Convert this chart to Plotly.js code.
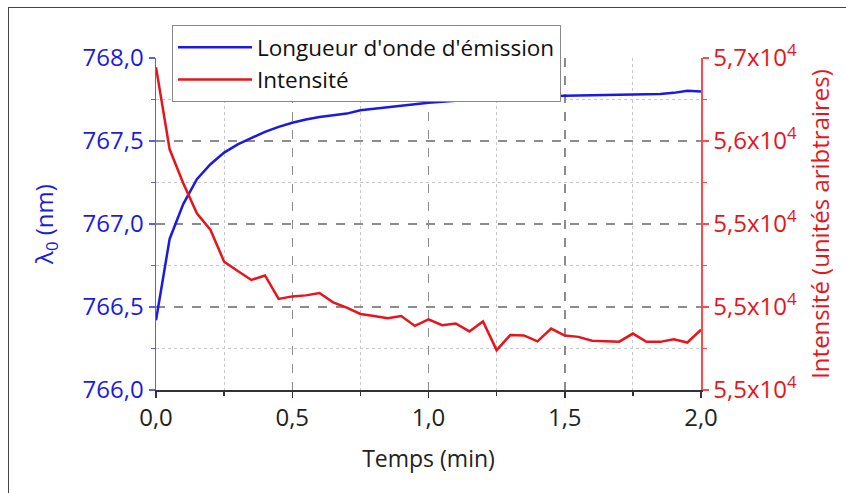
<!DOCTYPE html>
<html>
<head>
<meta charset="utf-8">
<script src="https://cdn.plot.ly/plotly-3.0.1.min.js"></script>
<style>
  html, body { margin: 0; padding: 0; background: #fff; }
  #wrap { position: relative; width: 846px; height: 493px; overflow: hidden; }
  #frame { position: absolute; left: 8px; top: 7px; width: 900px; height: 600px;
           border-left: 1.5px solid #444; border-top: 1.5px solid #444; pointer-events: none; }
</style>
</head>
<body>
<div id="wrap">
  <div id="chart" style="width:846px;height:493px;"></div>
  <div id="frame"></div>
</div>
<script>
// Time (min)
const temps = [0.00, 0.05, 0.10, 0.15, 0.20, 0.25, 0.30, 0.35, 0.40, 0.45,
               0.50, 0.55, 0.60, 0.65, 0.70, 0.75, 0.80, 0.85, 0.90, 0.95,
               1.00, 1.05, 1.10, 1.15, 1.20, 1.25, 1.30, 1.35, 1.40, 1.45,
               1.50, 1.55, 1.60, 1.65, 1.70, 1.75, 1.80, 1.85, 1.90, 1.95, 2.00];

// Emission wavelength (nm)
const longueurOnde = [766.42, 766.91, 767.12, 767.27, 767.36, 767.43, 767.48, 767.52, 767.555, 767.585,
                      767.61, 767.63, 767.645, 767.655, 767.665, 767.685, 767.695, 767.705, 767.715, 767.722,
                      767.73, 767.737, 767.743, 767.748, 767.752, 767.756, 767.762, 767.762, 767.766, 767.77,
                      767.773, 767.775, 767.776, 767.776, 767.778, 767.779, 767.781, 767.783, 767.79, 767.803, 767.798];

// Intensity (arbitrary units)
const intensite = [56945, 56450, 56245, 56064, 55964, 55773, 55717, 55663, 55690, 55549,
                   55564, 55570, 55584, 55528, 55496, 55458, 55446, 55432, 55446, 55386,
                   55426, 55390, 55401, 55353, 55413, 55240, 55331, 55329, 55293, 55370,
                   55328, 55320, 55297, 55296, 55291, 55340, 55290, 55290, 55305, 55286, 55363];

// Right axis tick labels as printed on the original
const intensiteTickVals = [55000, 55500, 56000, 56500, 57000];
const intensiteTickText = ["5,5x10<sup>4</sup>", "5,5x10<sup>4</sup>", "5,5x10<sup>4</sup>", "5,6x10<sup>4</sup>", "5,7x10<sup>4</sup>"];

const FONT = "Open Sans, Lato, sans-serif";
const BLUE = "#1a1ae0";
const RED = "#e8141c";

const traces = [
  { x: temps, y: longueurOnde, type: "scatter", mode: "lines", name: "Longueur d'onde d'émission",
    line: { color: BLUE, width: 2.5 }, yaxis: "y" },
  { x: temps, y: intensite, type: "scatter", mode: "lines", name: "Intensité",
    line: { color: RED, width: 2.5 }, yaxis: "y2" }
];

const layout = {
  width: 846, height: 493,
  margin: { l: 156, r: 145, t: 58, b: 103, pad: 0 },
  paper_bgcolor: "#fff", plot_bgcolor: "#fff",
  separators: ", ",
  font: { family: FONT, size: 24, color: "#222" },
  showlegend: true,
  legend: {
    x: 0.029, y: 1.1, xanchor: "left", yanchor: "top",
    bgcolor: "#fff", bordercolor: "#8a8a8a", borderwidth: 1.2,
    font: { family: FONT, size: 22.5, color: "#111" },
    itemwidth: 74,
    entrywidth: 410,
    tracegroupgap: 0
  },
  xaxis: {
    range: [0, 2], dtick: 0.5, tick0: 0, tickformat: ".1f",
    showline: true, linecolor: "#333", linewidth: 1.5,
    ticks: "outside", ticklen: 6, tickwidth: 1.5, tickcolor: "#333",
    showgrid: true, gridcolor: "#8c8c8c", gridwidth: 1.5, griddash: "dash",
    minor: { dtick: 0.25, tick0: 0, ticks: "outside", ticklen: 4, tickcolor: "#333",
             showgrid: true, gridcolor: "#c8c8c8", gridwidth: 1, griddash: "dot" },
    zeroline: false,
    tickfont: { family: FONT, size: 24, color: "#222" },
    title: { text: "Temps (min)", font: { family: FONT, size: 23, color: "#222" }, standoff: 18 }
  },
  yaxis: {
    range: [766, 768], dtick: 0.5, tick0: 766, tickformat: ".1f",
    showline: true, linecolor: "#5a5aff", linewidth: 1.5,
    ticks: "outside", ticklen: 6, tickwidth: 1.5, tickcolor: "#5a5aff",
    showgrid: true, gridcolor: "#8c8c8c", gridwidth: 1.5, griddash: "dash",
    minor: { dtick: 0.25, tick0: 766, ticks: "outside", ticklen: 4, tickcolor: "#5a5aff",
             showgrid: true, gridcolor: "#c8c8c8", gridwidth: 1, griddash: "dot" },
    zeroline: false,
    tickfont: { family: FONT, size: 24, color: BLUE },
    title: { text: "λ<sub>0</sub> (nm)", font: { family: FONT, size: 24, color: BLUE }, standoff: 22 }
  },
  yaxis2: {
    overlaying: "y", side: "right", anchor: "x",
    range: [55000, 57000], tickmode: "array",
    tickvals: intensiteTickVals, ticktext: intensiteTickText,
    showline: true, linecolor: "#ff4a4a", linewidth: 1.5,
    ticks: "outside", ticklen: 6, tickwidth: 1.5, tickcolor: "#ff4a4a",
    showgrid: false,
    minor: { dtick: 250, tick0: 55000, ticks: "outside", ticklen: 4, tickcolor: "#ff4a4a", showgrid: false },
    zeroline: false,
    tickfont: { family: FONT, size: 24, color: RED },
    title: { text: "Intensité (unités aribtraires)", font: { family: FONT, size: 24, color: RED }, standoff: 16 }
  },
  // white stroke hiding the gridline that falls on the open top edge of the plot area
  shapes: [
    { type: "line", xref: "x domain", yref: "y domain", x0: 0.003, x1: 0.997, y0: 1, y1: 1,
      line: { color: "#ffffff", width: 3 }, layer: "below" }
  ]
};

Plotly.newPlot("chart", traces, layout, { staticPlot: true, displayModeBar: false });
</script>
</body>
</html>
